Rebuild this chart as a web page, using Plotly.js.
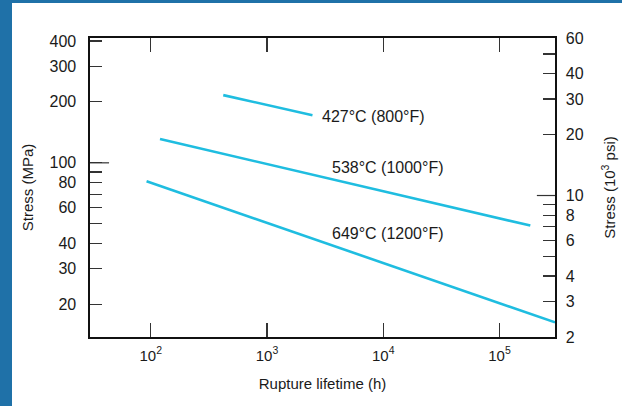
<!DOCTYPE html>
<html>
<head>
<meta charset="utf-8">
<script src="https://cdn.plot.ly/plotly-3.0.1.min.js"></script>
<style>
  html, body { margin: 0; padding: 0; width: 622px; height: 406px; background: #1f71a8; overflow: hidden; }
  #chart { position: absolute; left: 12px; top: 3px; width: 610px; height: 403px; background: #fff; }
</style>
</head>
<body>
<div id="chart"></div>
<script>
// Rupture lifetime (h) and stress (MPa) for each temperature
const hours427 = [420, 2460];
const stress427 = [216, 172];
const hours538 = [120, 184000];
const stress538 = [131, 49];
const hours649 = [92, 300000];
const stress649 = [81, 16.3];

const seriesLabels = ['427°C (800°F)', '538°C (1000°F)', '649°C (1200°F)'];
const labelHours = [2830, 3500, 3500];
const labelStress = [170, 95, 44.8];

const xTickVals = [100, 1000, 10000, 100000];
const xTickText = ['10<sup>2</sup>', '10<sup>3</sup>', '10<sup>4</sup>', '10<sup>5</sup>'];
const yTickVals = [20, 30, 40, 60, 80, 100, 200, 300, 400];
const yTickText = ['20', '30', '40', '60', '80', '100', '200', '300', '400'];
const yMinorVals = [50, 70, 90];
const y2TickVals = [2, 3, 4, 6, 8, 10, 20, 30, 40, 60];
const y2TickText = ['2', '3', '4', '6', '8', '10', '20', '30', '40', '60'];
const y2MinorVals = [5, 7, 9, 50];

const MPA_PER_KSI = 6.894757;
const ksiMin = 2, ksiMax = 60;

const lineStyle = { color: '#1fbde0', width: 2.6 };
const traces = [
  { x: hours427, y: stress427, mode: 'lines', line: lineStyle, hoverinfo: 'skip' },
  { x: hours538, y: stress538, mode: 'lines', line: lineStyle, hoverinfo: 'skip' },
  { x: hours649, y: stress649, mode: 'lines', line: lineStyle, hoverinfo: 'skip' },
  { x: [], y: [], yaxis: 'y2', mode: 'lines', hoverinfo: 'skip' }
];

const font = { family: 'Liberation Sans, Arial, sans-serif', color: '#1a1a1a' };
const tickStyle = { ticks: 'inside', ticklen: 12, tickwidth: 1.2, tickcolor: '#333' };

const layout = {
  width: 610, height: 403,
  margin: { l: 78, r: 67, t: 35, b: 69 },
  paper_bgcolor: '#ffffff', plot_bgcolor: '#ffffff',
  showlegend: false,
  font: Object.assign({ size: 15 }, font),
  xaxis: {
    type: 'log',
    range: [Math.log10(30), Math.log10(300000)],
    tickvals: xTickVals, ticktext: xTickText,
    ticks: 'inside', ticklen: 14, tickwidth: 1.2, tickcolor: '#333',
    mirror: 'ticks', showline: true, linecolor: '#111', linewidth: 1.6,
    showgrid: false, zeroline: false,
    ticklabelstandoff: 4,
    tickfont: Object.assign({ size: 15 }, font),
    title: { text: 'Rupture lifetime (h)', font: Object.assign({ size: 15 }, font), standoff: 16 }
  },
  yaxis: Object.assign({
    type: 'log',
    range: [Math.log10(ksiMin * MPA_PER_KSI), Math.log10(ksiMax * MPA_PER_KSI)],
    tickvals: yTickVals, ticktext: yTickText,
    minor: Object.assign({ tickvals: yMinorVals, showgrid: false }, tickStyle),
    showline: true, linecolor: '#111', linewidth: 1.6,
    showgrid: false, zeroline: false,
    ticklabelstandoff: 9,
    tickfont: Object.assign({ size: 16 }, font),
    title: { text: 'Stress (MPa)', font: Object.assign({ size: 15 }, font), standoff: 12 }
  }, tickStyle),
  yaxis2: Object.assign({
    type: 'log', overlaying: 'y', side: 'right',
    range: [Math.log10(ksiMin), Math.log10(ksiMax)],
    tickvals: y2TickVals, ticktext: y2TickText,
    minor: Object.assign({ tickvals: y2MinorVals, showgrid: false }, tickStyle),
    showline: true, linecolor: '#111', linewidth: 1.6,
    showgrid: false, zeroline: false,
    ticklabelstandoff: 6,
    tickfont: Object.assign({ size: 16 }, font),
    title: { text: 'Stress (10<sup>3</sup> psi)', font: Object.assign({ size: 15 }, font), standoff: 22 }
  }, tickStyle),
  shapes: [
    { type: 'line', xref: 'paper', yref: 'y', x0: 0, x1: 0.041, y0: 100, y1: 100, line: { color: '#333', width: 1.2 } },
    { type: 'line', xref: 'paper', yref: 'y2', x0: 1, x1: 0.961, y0: 10, y1: 10, line: { color: '#333', width: 1.2 } }
  ],
  annotations: seriesLabels.map((t, i) => ({
    text: t, x: Math.log10(labelHours[i]), y: Math.log10(labelStress[i]),
    xref: 'x', yref: 'y', xanchor: 'left', yanchor: 'middle', showarrow: false,
    font: Object.assign({ size: 16 }, font)
  }))
};

Plotly.newPlot('chart', traces, layout, { displayModeBar: false, staticPlot: true });
</script>
</body>
</html>
